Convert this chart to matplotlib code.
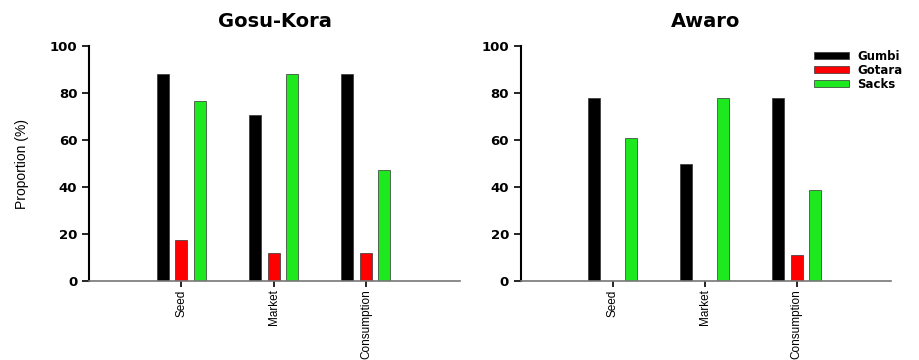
import numpy as np
import matplotlib
matplotlib.use("Agg")
import matplotlib.pyplot as plt

plt.rcParams['font.family'] = ['Liberation Sans', 'DejaVu Sans']

categories = ["Seed", "Market", "Consumption"]
series = ["Gumbi", "Gotara", "Sacks"]
colors = ["#000000", "#ff0000", "#1ee81e"]

gosu_kora = {
    "Gumbi": [88.2, 70.6, 88.2],
    "Gotara": [17.6, 11.8, 11.8],
    "Sacks": [76.5, 88.2, 47.1],
}
awaro = {
    "Gumbi": [77.8, 50.0, 77.8],
    "Gotara": [0.0, 0.0, 11.1],
    "Sacks": [61.1, 77.8, 38.9],
}

fig = plt.figure(figsize=(9.2, 3.6), dpi=100)
ax1 = fig.add_axes([0.097, 0.219, 0.403, 0.653])
ax2 = fig.add_axes([0.566, 0.219, 0.402, 0.653])

x = np.arange(len(categories))
width = 0.13
offsets = [-0.2, 0.0, 0.2]

for ax, data, title in [(ax1, gosu_kora, "Gosu-Kora"), (ax2, awaro, "Awaro")]:
    for name, col, off in zip(series, colors, offsets):
        ax.bar(x + off, data[name], width, color=col, edgecolor="#333333",
               linewidth=0.5, label=name)
    ax.set_xlim(-1.0, 3.02)
    ax.set_ylim(0, 100)
    ax.set_yticks([0, 20, 40, 60, 80, 100])
    ax.set_xticks(x)
    ax.set_xticklabels(categories, rotation=90, fontsize=8.5)
    for lab in ax.get_yticklabels():
        lab.set_fontweight("bold")
        lab.set_fontsize(9.5)
        lab.set_family("DejaVu Sans")
    ax.spines["top"].set_visible(False)
    ax.spines["right"].set_visible(False)
    ax.spines["left"].set_linewidth(1.5)
    ax.spines["bottom"].set_color("#777777")
    ax.spines["bottom"].set_linewidth(1.2)
    ax.tick_params(axis="y", length=5, width=1.2)
    ax.tick_params(axis="x", length=4, width=1.2, pad=2)
    ax.set_title(title, fontweight="bold", fontsize=14, pad=14,
                 family="DejaVu Sans")

ax1.set_ylabel("Proportion (%)", fontsize=10, labelpad=15)

leg = ax2.legend(loc="upper right", bbox_to_anchor=(1.06, 1.03), frameon=False,
                 prop={"family": "DejaVu Sans", "weight": "bold", "size": 8.5},
                 handlelength=2.9, handleheight=0.6,
                 labelspacing=0.08, handletextpad=0.7)

fig.savefig("out.png", dpi=100)
